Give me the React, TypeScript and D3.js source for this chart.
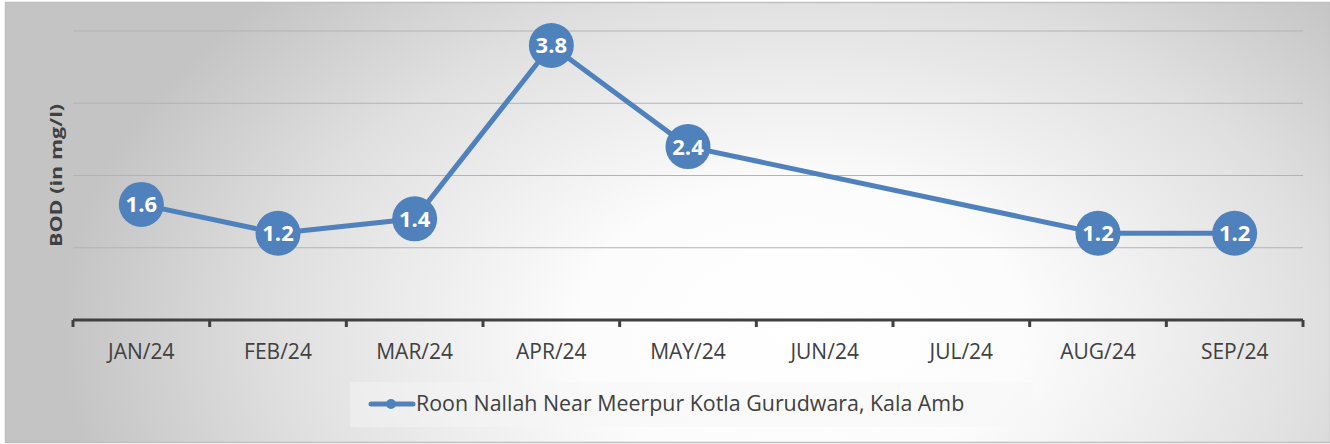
import React from "react";
import * as d3 from "d3";

const categories = ["JAN/24", "FEB/24", "MAR/24", "APR/24", "MAY/24", "JUN/24", "JUL/24", "AUG/24", "SEP/24"];
const values: (number | null)[] = [1.6, 1.2, 1.4, 3.8, 2.4, null, null, 1.2, 1.2];
const gridTicks = [0, 1, 2, 3, 4];
const seriesName = "Roon Nallah Near Meerpur Kotla Gurudwara, Kala Amb";
const yTitle = "BOD (in mg/l)";

const W = 1330, H = 444;
const left = 73, right = 1303, top = 31, bottom = 320;
const color = "#4F81BD";
const font = "'Open Sans', Lato, sans-serif";

export default function App() {
  const x = d3.scaleBand<string>().domain(categories).range([left, right]).padding(0);
  const y = d3.scaleLinear().domain([0, 4]).range([bottom, top]);
  const pts = categories
    .map((c, i) => ({ c, v: values[i] }))
    .filter((d) => d.v !== null) as { c: string; v: number }[];
  const line = d3
    .line<{ c: string; v: number }>()
    .x((d) => (x(d.c) as number) + x.bandwidth() / 2)
    .y((d) => y(d.v));
  const boundaries = categories.map((c) => x(c) as number).concat([right]);

  return (
    <svg width={W} height={H} style={{ position: "absolute", left: 0, top: 0 }} fontFamily={font}>
      <defs>
        <radialGradient
          id="bg"
          cx={0}
          cy={0}
          r={1}
          gradientUnits="userSpaceOnUse"
          gradientTransform="translate(800,330) scale(740,480)"
        >
          <stop offset="0" stopColor="#ffffff" />
          <stop offset="0.3" stopColor="#fcfcfc" />
          <stop offset="0.7" stopColor="#e0e0e0" />
          <stop offset="1" stopColor="#c4c4c4" />
        </radialGradient>
      </defs>
      <rect x={5.5} y={2.5} width={W - 5} height={H - 4} fill="url(#bg)" stroke="#bfbfbf" strokeWidth={1.5} />
      {gridTicks.filter((t) => t > 0).map((t) => (
        <line key={t} x1={left} x2={right} y1={y(t)} y2={y(t)} stroke="#b3b3b3" strokeWidth={1} />
      ))}
      <line x1={left} x2={right} y1={bottom} y2={bottom} stroke="#404040" strokeWidth={3} />
      {boundaries.map((b, i) => (
        <line key={i} x1={b} x2={b} y1={bottom} y2={bottom + 7} stroke="#404040" strokeWidth={3} />
      ))}
      {categories.map((c) => (
        <text key={c} x={(x(c) as number) + x.bandwidth() / 2} y={359} textAnchor="middle" fontSize={21} fill="#404040">
          {c}
        </text>
      ))}
      <text
        transform={`translate(62, ${(top + bottom) / 2}) rotate(-90) scale(1.35,1)`}
        textAnchor="middle"
        fontSize={16}
        fontWeight="bold"
        fill="#404040"
      >
        {yTitle}
      </text>
      <path d={line(pts) || ""} fill="none" stroke={color} strokeWidth={5} strokeLinejoin="round" />
      {pts.map((d) => {
        const cx = (x(d.c) as number) + x.bandwidth() / 2;
        const cy = y(d.v);
        return (
          <g key={d.c}>
            <circle cx={cx} cy={cy} r={22.5} fill={color} />
            <text x={cx} y={cy + 8} textAnchor="middle" fontSize={22} fontWeight="bold" fill="#ffffff">
              {d.v.toFixed(1)}
            </text>
          </g>
        );
      })}
      <g>
        <rect x={350} y={382} width={683} height={45} fill="#f6f6f6" opacity={0.45} />
        <line x1={371} x2={413} y1={404} y2={404} stroke={color} strokeWidth={5} strokeLinecap="round" />
        <circle cx={391} cy={404} r={5} fill={color} />
        <text x={416} y={411} fontSize={21.4} fill="#404040">
          {seriesName}
        </text>
      </g>
    </svg>
  );
}
